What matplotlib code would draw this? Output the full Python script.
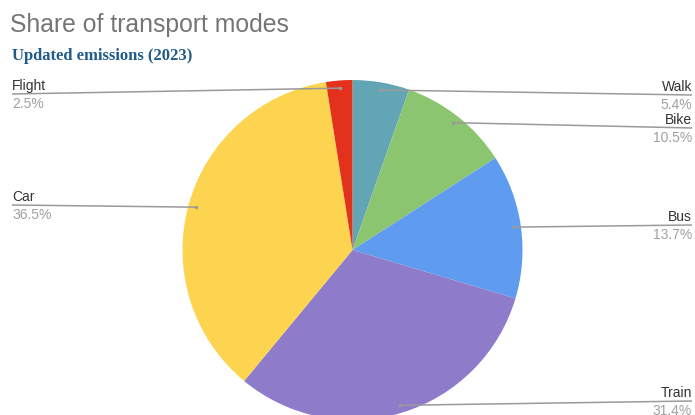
import numpy as np
import matplotlib.pyplot as plt

modes = ["Walk", "Bike", "Bus", "Train", "Car", "Flight"]
shares = [5.4, 10.5, 13.7, 31.4, 36.5, 2.5]
colors = ["#62a5b5", "#8cc56f", "#5f9cf0", "#8e7cca", "#fcd44f", "#e2321b"]

# label side and the y (from top, in px) of each leader's horizontal rule
label_side = {"Walk": "right", "Bike": "right", "Bus": "right",
              "Train": "right", "Car": "left", "Flight": "left"}
label_line_y = {"Walk": 95, "Bike": 128, "Bus": 225,
                "Train": 401, "Car": 205, "Flight": 94}

W, H = 695, 415
fig = plt.figure(figsize=(W / 100, H / 100), dpi=100)
ax = fig.add_axes([0, 0, 1, 1])

cx, cy, R = 352.5, H - 250, 170
wedges, _ = ax.pie(shares, colors=colors, startangle=90, counterclock=False,
                   center=(cx, cy), radius=R, frame=True,
                   wedgeprops=dict(linewidth=0))
ax.set_xlim(0, W)
ax.set_ylim(0, H)
ax.set_aspect("equal")
ax.axis("off")

for w, name, val in zip(wedges, modes, shares):
    mid = np.deg2rad((w.theta1 + w.theta2) / 2)
    px = cx + 0.955 * R * np.cos(mid)
    py = cy + 0.955 * R * np.sin(mid)
    ly = H - label_line_y[name]
    if label_side[name] == "left":
        x0, ha = 12, "left"
    else:
        x0, ha = 692, "right"
    ax.plot([x0, px], [ly, py], color="#9a9a9a", lw=1.1, solid_capstyle="butt")
    ax.plot([px], [py], marker="o", ms=2.5, color="#9a9a9a", mec="none")
    ax.text(x0, ly + 4, name, ha=ha, va="baseline", fontsize=10,
            color="#333333", family="Liberation Sans")
    ax.text(x0, ly - 3, f"{val}%", ha=ha, va="top", fontsize=10,
            color="#a0a0a0", family="Liberation Sans")

fig.text(10 / W, 1 - 32 / H, "Share of transport modes", fontsize=17.8,
         color="#757575", family="Liberation Sans", va="baseline")
fig.text(12 / W, 1 - 60 / H, "Updated emissions (2023)", fontsize=12,
         color="#1f5a8a", family="Liberation Serif", weight="bold", va="baseline")

fig.savefig("out.png", dpi=100)
